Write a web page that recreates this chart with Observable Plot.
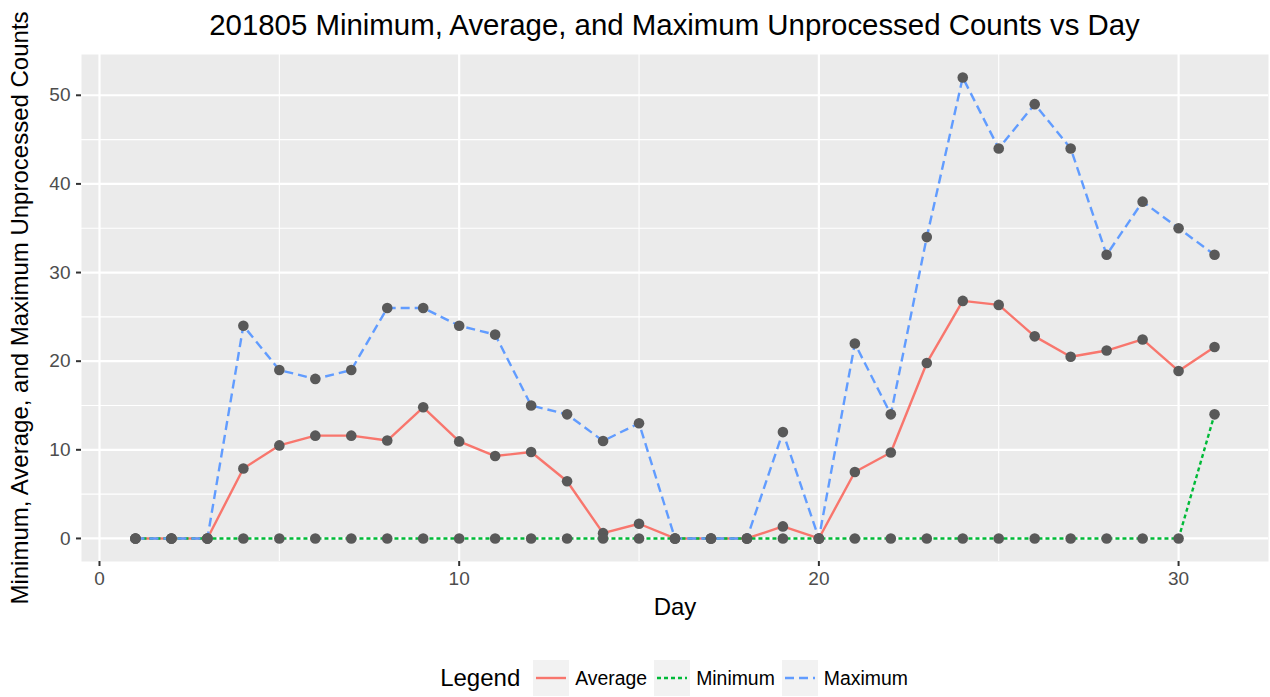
<!DOCTYPE html>
<html>
<head>
<meta charset="utf-8">
<script src="https://cdn.jsdelivr.net/npm/d3@7"></script>
<script src="https://cdn.jsdelivr.net/npm/@observablehq/plot@0.6"></script>
<style>
  html, body { margin: 0; padding: 0; background: #fff; }
  body { width: 1270px; height: 697px; overflow: hidden; font-family: "Liberation Sans", Arial, sans-serif; }
  #title { height: 50px; line-height: 50px; padding-left: 81px; padding-right: 2px; text-align: center; font-size: 29.4px; color: #000; white-space: nowrap; position: relative; }
  #chart { position: relative; z-index: 1; }
  #chart svg { display: block; overflow: visible; }
  #legend { height: 56px; padding-left: 87px; padding-right: 2px; box-sizing: border-box; display: flex; justify-content: center; align-items: flex-start; }
  #legend .inner { display: flex; align-items: center; margin-top: 19px; height: 36px; }
  #legend .ltitle { font-size: 24px; margin-right: 13px; color: #000; }
  #legend .key { width: 36px; height: 36px; background: #F2F2F2; margin-right: 6px; }
  #legend .key svg { display: block; }
  #legend .lab { font-size: 19.4px; margin-right: 7px; color: #000; }
</style>
</head>
<body>
<div id="title"></div>
<div id="chart"></div>
<div id="legend"></div>
<script>
const titleText = "201805 Minimum, Average, and Maximum Unprocessed Counts vs Day";
const xLabel = "Day";
const yLabel = "Minimum, Average, and Maximum Unprocessed Counts";

const days    = [1, 2, 3, 4, 5, 6, 7, 8, 9, 10, 11, 12, 13, 14, 15, 16, 17, 18, 19, 20, 21, 22, 23, 24, 25, 26, 27, 28, 29, 30, 31];
const average = [0, 0, 0, 7.9, 10.5, 11.6, 11.6, 11.05, 14.8, 10.95, 9.3, 9.75, 6.45, 0.6, 1.66, 0, 0, 0, 1.36, 0, 7.5, 9.7, 19.8, 26.8, 26.35, 22.8, 20.5, 21.2, 22.45, 18.9, 21.6];
const minimum = [0, 0, 0, 0, 0, 0, 0, 0, 0, 0, 0, 0, 0, 0, 0, 0, 0, 0, 0, 0, 0, 0, 0, 0, 0, 0, 0, 0, 0, 0, 14];
const maximum = [0, 0, 0, 24, 19, 18, 19, 26, 26, 24, 23, 15, 14, 11, 13, 0, 0, 0, 12, 0, 22, 14, 34, 52, 44, 49, 44, 32, 38, 35, 32];

const seriesNames = ["Average", "Minimum", "Maximum"];
const seriesColors = ["#F8766D", "#00BA38", "#619CFF"];
const seriesDash = [null, "4,3", "9,5"];

const xMajor = [0, 10, 20, 30];
const xMinor = [5, 15, 25];
const yMajor = [0, 10, 20, 30, 40, 50];
const yMinor = [5, 15, 25, 35, 45];

const rows = [];
[average, minimum, maximum].forEach((vals, si) => {
  days.forEach((d, i) => rows.push({day: d, value: vals[i], series: seriesNames[si]}));
});

document.getElementById("title").textContent = titleText;

const lineMarks = seriesNames.map((name, si) =>
  Plot.line(rows.filter(r => r.series === name), {
    x: "day", y: "value",
    stroke: seriesColors[si], strokeWidth: 2.4,
    strokeDasharray: seriesDash[si] || undefined,
    strokeLinecap: "butt", strokeLinejoin: "round"
  })
);

const chart = Plot.plot({
  width: 1270,
  height: 591,
  marginTop: 4,
  marginBottom: 80,
  marginLeft: 81,
  marginRight: 2,
  style: {fontFamily: "Liberation Sans, Arial, sans-serif", fontSize: "19px", background: "transparent", overflow: "visible"},
  x: {domain: [-0.5, 32.5]},
  y: {domain: [-2.6, 54.6]},
  marks: [
    Plot.frame({fill: "#EBEBEB", stroke: null}),
    Plot.ruleX(xMinor, {stroke: "#fff", strokeWidth: 1.1}),
    Plot.ruleY(yMinor, {stroke: "#fff", strokeWidth: 1.1}),
    Plot.ruleX(xMajor, {stroke: "#fff", strokeWidth: 2.2}),
    Plot.ruleY(yMajor, {stroke: "#fff", strokeWidth: 2.2}),
    ...lineMarks,
    Plot.dot(rows, {x: "day", y: "value", r: 5.3, fill: "#595959", stroke: null}),
    Plot.axisX({ticks: xMajor, tickSize: 5, tickPadding: 5, label: null, fill: "#4D4D4D", stroke: "#333333", strokeWidth: 2, fontSize: 19}),
    Plot.axisY({ticks: yMajor, tickSize: 5, tickPadding: 6, label: null, fill: "#4D4D4D", stroke: "#333333", strokeWidth: 2, fontSize: 19}),
    Plot.text([yLabel], {frameAnchor: "left", textAnchor: "middle", lineAnchor: "middle", dx: -61, rotate: -90, fontSize: 24, fill: "#000"}),
    Plot.text([xLabel], {frameAnchor: "bottom", dy: 46, lineAnchor: "middle", fontSize: 24, fill: "#000"})
  ]
});
document.getElementById("chart").appendChild(chart);

// legend
const leg = document.getElementById("legend");
const inner = document.createElement("div");
inner.className = "inner";
const lt = document.createElement("span");
lt.className = "ltitle";
lt.textContent = "Legend";
inner.appendChild(lt);
seriesNames.forEach((name, si) => {
  const key = document.createElement("div");
  key.className = "key";
  const ns = "http://www.w3.org/2000/svg";
  const s = document.createElementNS(ns, "svg");
  s.setAttribute("width", 36); s.setAttribute("height", 36);
  const ln = document.createElementNS(ns, "line");
  ln.setAttribute("x1", 3); ln.setAttribute("x2", 33);
  ln.setAttribute("y1", 18); ln.setAttribute("y2", 18);
  ln.setAttribute("stroke", seriesColors[si]);
  ln.setAttribute("stroke-width", 2.4);
  if (seriesDash[si]) ln.setAttribute("stroke-dasharray", seriesDash[si]);
  s.appendChild(ln);
  key.appendChild(s);
  inner.appendChild(key);
  const lab = document.createElement("span");
  lab.className = "lab";
  lab.textContent = name;
  inner.appendChild(lab);
});
leg.appendChild(inner);
</script>
</body>
</html>
